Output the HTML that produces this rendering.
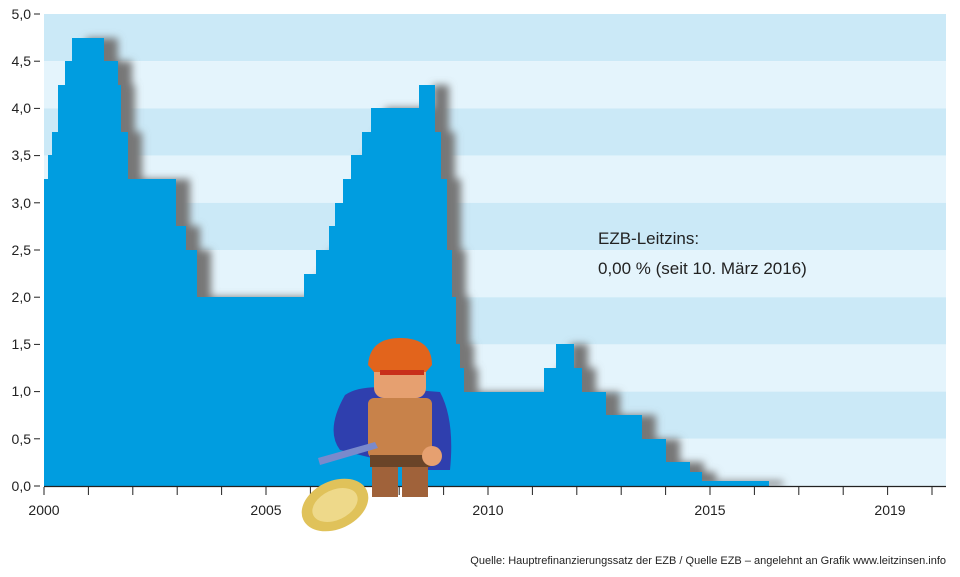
<!DOCTYPE html>
<html><head><meta charset="utf-8"><style>
body{margin:0;background:#fff}
svg{display:block;font-family:"Liberation Sans",sans-serif}
</style></head><body>
<svg width="960" height="577" viewBox="0 0 960 577">
<defs>
<filter id="b" x="-10%" y="-10%" width="120%" height="120%"><feGaussianBlur stdDeviation="4"/></filter>
<clipPath id="c"><rect x="44" y="14" width="902" height="472"/></clipPath>
</defs>
<g>
<rect x="44" y="14" width="902" height="47.2" fill="#cbe9f7"/>
<rect x="44" y="61.2" width="902" height="47.2" fill="#e4f4fc"/>
<rect x="44" y="108.4" width="902" height="47.2" fill="#cbe9f7"/>
<rect x="44" y="155.6" width="902" height="47.2" fill="#e4f4fc"/>
<rect x="44" y="202.8" width="902" height="47.2" fill="#cbe9f7"/>
<rect x="44" y="250" width="902" height="47.2" fill="#e4f4fc"/>
<rect x="44" y="297.2" width="902" height="47.2" fill="#cbe9f7"/>
<rect x="44" y="344.4" width="902" height="47.2" fill="#e4f4fc"/>
<rect x="44" y="391.6" width="902" height="47.2" fill="#cbe9f7"/>
<rect x="44" y="438.8" width="902" height="47.2" fill="#e4f4fc"/>
</g>
<g clip-path="url(#c)">
<path id="p" d="M44,486 V179 H48 V155 H52 V132 H58 V85 H65 V61 H72 V38 H104 V61 H118 V85 H121 V132 H128 V179 H176 V226 H186 V250 H197 V297 H304 V274 H316 V250 H329 V226 H335 V203 H343 V179 H351 V155 H362 V132 H371 V108 H419 V85 H435 V132 H441 V179 H447 V250 H452 V297 H456 V344 H460 V368 H464 V392 H544 V368 H556 V344 H574 V368 H582 V392 H606 V415 H642 V439 H666 V462 H690 V472 H702 V481 H769 V486 Z" fill="#777" filter="url(#b)" transform="translate(14,0)"/>
<path d="M44,486 V179 H48 V155 H52 V132 H58 V85 H65 V61 H72 V38 H104 V61 H118 V85 H121 V132 H128 V179 H176 V226 H186 V250 H197 V297 H304 V274 H316 V250 H329 V226 H335 V203 H343 V179 H351 V155 H362 V132 H371 V108 H419 V85 H435 V132 H441 V179 H447 V250 H452 V297 H456 V344 H460 V368 H464 V392 H544 V368 H556 V344 H574 V368 H582 V392 H606 V415 H642 V439 H666 V462 H690 V472 H702 V481 H769 V486 Z" fill="#009de0"/>
</g>
<line x1="44" y1="486.5" x2="946" y2="486.5" stroke="#222" stroke-width="1.2"/>
<g stroke="#222" stroke-width="1">
<line x1="34" y1="14" x2="40" y2="14"/><line x1="34" y1="61.2" x2="40" y2="61.2"/><line x1="34" y1="108.4" x2="40" y2="108.4"/><line x1="34" y1="155.6" x2="40" y2="155.6"/><line x1="34" y1="202.8" x2="40" y2="202.8"/><line x1="34" y1="250" x2="40" y2="250"/><line x1="34" y1="297.2" x2="40" y2="297.2"/><line x1="34" y1="344.4" x2="40" y2="344.4"/><line x1="34" y1="391.6" x2="40" y2="391.6"/><line x1="34" y1="438.8" x2="40" y2="438.8"/><line x1="34" y1="486" x2="40" y2="486"/>
<path d="M44,487v8M88.4,487v8M132.8,487v8M177.2,487v8M221.6,487v8M266,487v8M310.4,487v8M354.8,487v8M399.2,487v8M443.6,487v8M488,487v8M532.4,487v8M576.8,487v8M621.2,487v8M665.6,487v8M710,487v8M754.4,487v8M798.8,487v8M843.2,487v8M887.6,487v8M932,487v8"/>
</g>
<g font-size="14" fill="#222" text-anchor="end">
<text x="31" y="19">5,0</text><text x="31" y="66">4,5</text><text x="31" y="113">4,0</text><text x="31" y="160">3,5</text><text x="31" y="208">3,0</text><text x="31" y="255">2,5</text><text x="31" y="302">2,0</text><text x="31" y="349">1,5</text><text x="31" y="396">1,0</text><text x="31" y="444">0,5</text><text x="31" y="491">0,0</text>
</g>
<g font-size="14" fill="#222" text-anchor="middle">
<text x="44" y="515">2000</text><text x="266" y="515">2005</text><text x="488" y="515">2010</text><text x="710" y="515">2015</text><text x="890" y="515">2019</text>
</g>
<text x="598" y="244" font-size="17" fill="#222">EZB-Leitzins:</text>
<text x="598" y="274" font-size="17" fill="#222">0,00 % (seit 10. März 2016)</text>
<text x="946" y="564" font-size="11" fill="#222" text-anchor="end">Quelle: Hauptrefinanzierungssatz der EZB / Quelle EZB – angelehnt an Grafik www.leitzinsen.info</text>
<!-- figure -->
<g>
<path d="M345,395 Q360,385 390,388 L440,392 Q455,420 450,470 L420,470 L340,450 Q325,430 345,395Z" fill="#2f3fae"/>
<rect x="368" y="398" width="64" height="60" rx="6" fill="#c8824a"/>
<rect x="370" y="455" width="60" height="12" fill="#6a4428"/>
<rect x="372" y="467" width="26" height="30" fill="#a0623a"/><rect x="402" y="467" width="26" height="30" fill="#a0623a"/>
<rect x="374" y="350" width="52" height="48" rx="10" fill="#e6a070"/>
<path d="M368,365 Q370,338 400,338 Q432,338 432,365 L426,372 L374,372Z" fill="#e2641c"/>
<rect x="380" y="370" width="44" height="5" fill="#c8301a"/>
<path d="M318,458 L375,442 L378,448 L320,465Z" fill="#7a8acc"/>
<circle cx="432" cy="456" r="10" fill="#e6a070"/>
<ellipse cx="335" cy="505" rx="35" ry="24" fill="#e0c25a" transform="rotate(-25 335 505)"/>
<ellipse cx="335" cy="505" rx="24" ry="15" fill="#eed98a" transform="rotate(-25 335 505)"/>
</g>
</svg>
</body></html>
